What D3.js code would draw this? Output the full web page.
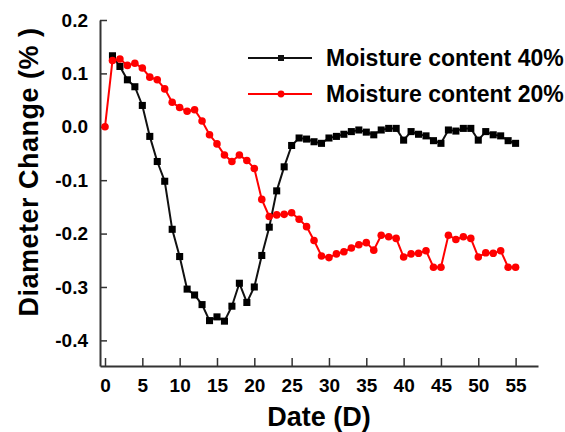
<!DOCTYPE html>
<html>
<head>
<meta charset="utf-8">
<script src="https://cdn.jsdelivr.net/npm/d3@7"></script>
<style>
  body { margin: 0; background: #fff; }
  svg text { font-family: "Liberation Sans", Arial, sans-serif; font-weight: bold; fill: #000; }
</style>
</head>
<body>
<div id="chart"></div>
<script>
// days and values
const days40 = [1, 2, 3, 4, 5, 6, 7, 8, 9, 10, 11, 12, 13, 14, 15, 16, 17, 18, 19, 20,
  21, 22, 23, 24, 25, 26, 27, 28, 29, 30, 31, 32, 33, 34, 35, 36, 37, 38, 39, 40,
  41, 42, 43, 44, 45, 46, 47, 48, 49, 50, 51, 52, 53, 54, 55];
const moisture40 = [0.133, 0.113, 0.088, 0.075, 0.040, -0.018, -0.065, -0.102, -0.192, -0.243,
  -0.304, -0.315, -0.333, -0.363, -0.356, -0.364, -0.336, -0.293, -0.329, -0.300,
  -0.241, -0.188, -0.120, -0.075, -0.035, -0.021, -0.023, -0.028, -0.031, -0.021,
  -0.018, -0.014, -0.009, -0.006, -0.010, -0.015, -0.006, -0.003, -0.003, -0.025,
  -0.009, -0.014, -0.017, -0.026, -0.031, -0.006, -0.008, -0.003, -0.003, -0.025,
  -0.009, -0.015, -0.017, -0.026, -0.031];

const days20 = [0, 1, 2, 3, 4, 5, 6, 7, 8, 9, 10, 11, 12, 13, 14, 15, 16, 17, 18, 19, 20,
  21, 22, 23, 24, 25, 26, 27, 28, 29, 30, 31, 32, 33, 34, 35, 36, 37, 38, 39, 40,
  41, 42, 43, 44, 45, 46, 47, 48, 49, 50, 51, 52, 53, 54, 55];
const moisture20 = [0.0, 0.124, 0.127, 0.115, 0.119, 0.110, 0.093, 0.088, 0.071, 0.046, 0.036,
  0.029, 0.032, 0.011, -0.015, -0.032, -0.053, -0.065, -0.053, -0.063, -0.078,
  -0.136, -0.168, -0.165, -0.164, -0.161, -0.173, -0.187, -0.213, -0.242, -0.245,
  -0.238, -0.234, -0.227, -0.221, -0.217, -0.231, -0.203, -0.206, -0.209, -0.244,
  -0.238, -0.237, -0.232, -0.263, -0.263, -0.203, -0.211, -0.206, -0.209, -0.244,
  -0.236, -0.237, -0.232, -0.263, -0.263];

const xTicks = [0, 5, 10, 15, 20, 25, 30, 35, 40, 45, 50, 55];
const yTicks = [0.2, 0.1, 0.0, -0.1, -0.2, -0.3, -0.4];
const yTickLabels = ['0.2', '0.1', '0.0', '-0.1', '-0.2', '-0.3', '-0.4'];
const seriesNames = ['Moisture content 40%', 'Moisture content 20%'];

const width = 565, height = 432;

const svg = d3.select('#chart').append('svg')
  .attr('width', width)
  .attr('height', height);

const x = d3.scaleLinear().domain([-0.67, 58]).range([100, 538]);
const y = d3.scaleLinear().domain([-0.448, 0.2]).range([366, 20]);

// axes
const xAxis = svg.append('g')
  .attr('transform', 'translate(0,366)')
  .call(d3.axisBottom(x).tickValues(xTicks).tickSizeInner(-8).tickSizeOuter(0).tickPadding(13));

const yAxis = svg.append('g')
  .attr('transform', 'translate(100,0)')
  .call(d3.axisLeft(y).tickValues(yTicks).tickSizeInner(-7).tickSizeOuter(0).tickPadding(12)
    .tickFormat((d, i) => yTickLabels[i]));

[xAxis, yAxis].forEach(a => {
  a.select('.domain').attr('stroke', '#333').attr('stroke-width', 2);
  a.selectAll('.tick line').attr('stroke', '#333').attr('stroke-width', 1.5);
  a.selectAll('.tick text').style('font-size', '19px').attr('fill', '#000');
});

// axis titles
svg.append('text')
  .attr('x', 319).attr('y', 426)
  .attr('text-anchor', 'middle')
  .style('font-size', '27px')
  .text('Date (D)');

svg.append('text')
  .attr('transform', 'translate(38,172) rotate(-90)')
  .attr('text-anchor', 'middle')
  .style('font-size', '27px')
  .style('letter-spacing', '0.5px')
  .text('Diameter Change (% )');

// series
const line = d3.line().x(d => x(d[0])).y(d => y(d[1]));

const data40 = days40.map((d, i) => [d, moisture40[i]]);
const data20 = days20.map((d, i) => [d, moisture20[i]]);

const square = d3.symbol().type(d3.symbolSquare).size(50);
const circle = d3.symbol().type(d3.symbolCircle).size(45);

svg.append('path')
  .datum(data40)
  .attr('d', line)
  .attr('fill', 'none')
  .attr('stroke', '#111')
  .attr('stroke-width', 2);

svg.append('path')
  .datum(data20)
  .attr('d', line)
  .attr('fill', 'none')
  .attr('stroke', '#ff0000')
  .attr('stroke-width', 2);

svg.append('g').selectAll('path')
  .data(data40)
  .enter().append('path')
  .attr('transform', d => `translate(${x(d[0])},${y(d[1])})`)
  .attr('d', square)
  .attr('fill', '#000');

svg.append('g').selectAll('path')
  .data(data20)
  .enter().append('path')
  .attr('transform', d => `translate(${x(d[0])},${y(d[1])})`)
  .attr('d', circle)
  .attr('fill', '#ff0000');

// legend
const legend = svg.append('g');
const legendRows = [
  { name: seriesNames[0], color: '#111', sym: d3.symbol().type(d3.symbolSquare).size(36), y: 58 },
  { name: seriesNames[1], color: '#ff0000', sym: d3.symbol().type(d3.symbolCircle).size(36), y: 94 }
];
legendRows.forEach(r => {
  legend.append('line')
    .attr('x1', 248).attr('x2', 312)
    .attr('y1', r.y).attr('y2', r.y)
    .attr('stroke', r.color).attr('stroke-width', 2);
  legend.append('path')
    .attr('transform', `translate(281,${r.y})`)
    .attr('d', r.sym)
    .attr('fill', r.color);
  legend.append('text')
    .attr('x', 326).attr('y', r.y + 8)
    .style('font-size', '23px')
    .text(r.name);
});
</script>
</body>
</html>
